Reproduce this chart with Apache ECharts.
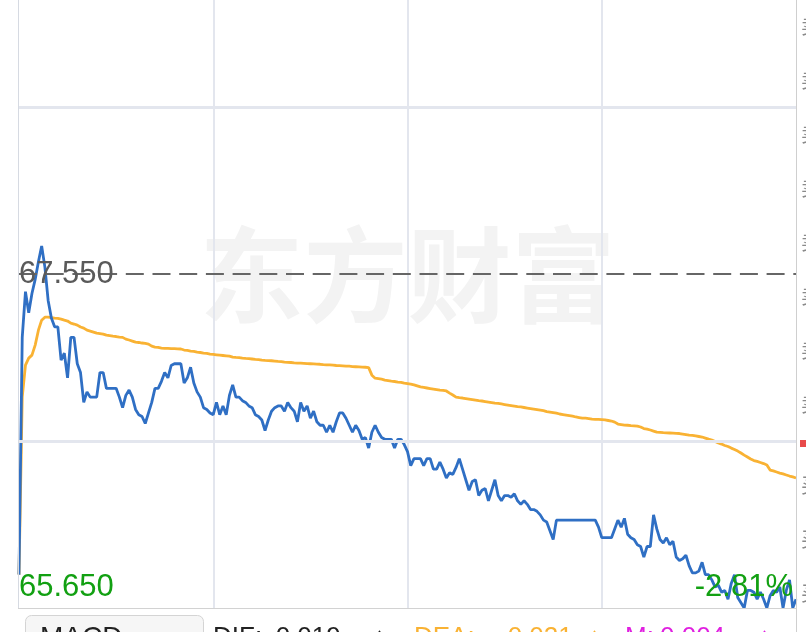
<!DOCTYPE html>
<html><head><meta charset="utf-8">
<script src="https://cdn.jsdelivr.net/npm/echarts@6/dist/echarts.min.js"></script>
<style>html,body{margin:0;padding:0;background:#fff;overflow:hidden}#c{width:806px;height:632px}</style>
</head><body><div id="c"></div>
<script>
const prevClose = 67.55;
const priceMin = 65.65;
const visibleMax = 69.11;   // price at the top edge of the (cropped) picture
const gridStep = 0.95;
const gridLevels = [68.50, 66.60];
const price = [
65.84,67.19,67.45,67.33,67.44,67.52,67.62,67.71,67.59,67.40,
67.30,67.25,67.25,67.06,67.10,66.96,67.19,67.19,67.04,66.99,
66.82,66.88,66.85,66.85,66.85,66.99,66.99,66.90,66.90,66.90,
66.90,66.85,66.79,66.86,66.89,66.85,66.78,66.75,66.74,66.70,
66.76,66.82,66.90,66.90,66.94,66.99,66.96,67.03,67.04,67.04,
67.04,66.93,66.96,67.02,66.93,66.88,66.85,66.79,66.78,66.76,
66.75,66.82,66.75,66.80,66.75,66.86,66.92,66.85,66.85,66.83,
66.82,66.80,66.79,66.75,66.74,66.72,66.66,66.72,66.77,66.79,
66.80,66.80,66.77,66.82,66.79,66.77,66.71,66.82,66.77,66.80,
66.73,66.77,66.71,66.69,66.69,66.65,66.69,66.65,66.71,66.76,
66.76,66.73,66.69,66.65,66.69,66.66,66.61,66.62,66.56,66.65,
66.69,66.65,66.62,66.61,66.61,66.61,66.56,66.61,66.61,66.58,
66.54,66.46,66.50,66.50,66.50,66.46,66.50,66.50,66.44,66.44,
66.48,66.44,66.39,66.42,66.41,66.45,66.50,66.44,66.38,66.32,
66.37,66.38,66.29,66.32,66.33,66.26,66.32,66.38,66.29,66.26,
66.29,66.29,66.28,66.30,66.26,66.24,66.26,66.24,66.21,66.21,
66.20,66.18,66.15,66.14,66.09,66.04,66.15,66.15,66.15,66.15,
66.15,66.15,66.15,66.15,66.15,66.15,66.15,66.15,66.15,66.11,
66.05,66.05,66.05,66.05,66.10,66.15,66.11,66.16,66.07,66.05,
66.04,66.01,66.00,65.94,66.00,66.00,66.18,66.10,66.04,66.02,
66.05,66.01,66.03,65.94,65.92,65.93,65.95,65.89,65.85,65.85,
65.86,65.91,65.84,65.84,65.81,65.77,65.78,65.74,65.75,65.70,
65.79,65.84,65.71,65.68,65.65,65.75,65.75,65.74,65.70,65.74,
65.70,65.65,65.72,65.75,65.74,65.77,65.65,65.75,65.81,65.65,
65.70
];
const avgPrice = [
65.84,66.850,67.032,67.072,67.089,67.146,67.231,67.288,67.305,67.305,
67.303,67.300,67.298,67.294,67.288,67.283,67.271,67.266,67.260,67.249,
67.243,67.231,67.226,67.220,67.214,67.212,67.209,67.203,67.200,67.197,
67.195,67.192,67.190,67.180,67.175,67.169,67.163,67.161,67.158,67.156,
67.152,67.140,67.135,67.133,67.129,67.128,67.127,67.126,67.126,67.125,
67.124,67.118,67.116,67.112,67.110,67.106,67.104,67.101,67.099,67.095,
67.093,67.091,67.089,67.087,67.085,67.083,67.078,67.076,67.075,67.072,
67.070,67.069,67.067,67.065,67.064,67.061,67.059,67.058,67.057,67.055,
67.053,67.052,67.049,67.048,67.047,67.045,67.044,67.043,67.042,67.041,
67.040,67.039,67.038,67.037,67.035,67.034,67.033,67.032,67.030,67.029,
67.028,67.027,67.026,67.024,67.023,67.022,67.021,67.020,67.018,66.975,
66.958,66.955,66.952,66.947,66.944,66.941,66.939,66.936,66.934,66.930,
66.927,66.924,66.920,66.914,66.908,66.905,66.902,66.899,66.896,66.893,
66.890,66.888,66.885,66.873,66.862,66.850,66.847,66.845,66.842,66.839,
66.836,66.833,66.830,66.828,66.825,66.822,66.819,66.816,66.814,66.811,
66.808,66.805,66.802,66.799,66.796,66.794,66.791,66.788,66.785,66.782,
66.779,66.776,66.773,66.768,66.765,66.762,66.759,66.754,66.751,66.748,
66.745,66.742,66.737,66.734,66.731,66.730,66.728,66.725,66.724,66.723,
66.722,66.720,66.717,66.714,66.708,66.697,66.694,66.691,66.690,66.688,
66.687,66.685,66.680,66.671,66.668,66.663,66.657,66.651,66.650,66.648,
66.647,66.646,66.645,66.644,66.643,66.640,66.637,66.634,66.632,66.629,
66.626,66.623,66.617,66.611,66.606,66.597,66.589,66.583,66.575,66.569,
66.560,66.552,66.543,66.532,66.520,66.509,66.498,66.489,66.484,66.478,
66.472,66.464,66.435,66.430,66.424,66.418,66.413,66.407,66.401,66.396,
66.390
];
const sessionBreaks = [60, 120, 180];
const macdNames = ['DIF:', 'DEA:', 'M:'];
const macdValues = ['-0.019', '-0.021', '0.004'];
const macdArrows = ['↑', '↑', '↑'];
const watermark = '东方财富';

// time categories 09:30-11:30, 13:01-15:00
const times = [];
function pad(n){return (n<10?'0':'')+n;}
for (let m = 9*60+30; m <= 11*60+30; m++) times.push(pad(Math.floor(m/60))+':'+pad(m%60));
for (let m = 13*60+1; m <= 15*60; m++) times.push(pad(Math.floor(m/60))+':'+pad(m%60));

const FONT = "'Liberation Sans', Arial, Helvetica, sans-serif";
const chart = echarts.init(document.getElementById('c'), null, {renderer: 'canvas'});
chart.setOption({
  animation: false,
  backgroundColor: '#ffffff',
  grid: {left: 19, right: 10, top: 0, bottom: 24, containLabel: false},
  xAxis: {
    type: 'category', data: times, boundaryGap: false,
    axisLine: {show: false}, axisTick: {show: false}, axisLabel: {show: false},
    splitLine: {show: true, interval: function(i){return sessionBreaks.indexOf(i) >= 0;},
      lineStyle: {color: '#e3e6ee', width: 2}}
  },
  yAxis: {
    type: 'value', min: priceMin, max: visibleMax, interval: gridStep,
    axisLine: {show: false}, axisTick: {show: false}, axisLabel: {show: false},
    splitLine: {show: false}
  },
  series: [
    {
      type: 'line', data: [], z: 1, silent: true,
      markLine: {silent: true, symbol: 'none', label: {show: false},
        lineStyle: {type: 'solid', color: '#e3e6ee', width: 3},
        data: gridLevels.map(v => ({yAxis: v}))}
    },
    {
      name: '均价', type: 'line', data: avgPrice, showSymbol: false, z: 3, silent: true,
      lineStyle: {color: '#f9b233', width: 2.8}
    },
    {
      name: '价格', type: 'line', data: price, showSymbol: false, z: 4, silent: true,
      lineStyle: {color: '#2f6fc4', width: 2.8},
      markLine: {silent: true, symbol: 'none', label: {show: false},
        lineStyle: {type: [18, 8.7], color: '#666666', width: 2},
        data: [{yAxis: prevClose}]}
    }
  ]
});

const x0 = chart.convertToPixel({xAxisIndex: 0}, 0);
const x1 = chart.convertToPixel({xAxisIndex: 0}, times.length - 1);
const yPrev = chart.convertToPixel({yAxisIndex: 0}, prevClose);
const yBot = chart.convertToPixel({yAxisIndex: 0}, priceMin);
const pct = ((priceMin - prevClose) / prevClose * 100).toFixed(2) + '%';
const green = '#12a012';

const g = [
  {type: 'text', z: -10, style: {text: watermark, x: (x0 + x1) / 2, y: yPrev + 1, align: 'center', verticalAlign: 'middle',
    font: "bold 104px 'Noto Sans CJK SC', sans-serif", fill: '#f3f3f3'}},
  {type: 'line', z: 5, shape: {x1: x0 - 0.5, y1: 0, x2: x0 - 0.5, y2: yBot}, style: {stroke: '#d6dae2', lineWidth: 1}},
  {type: 'line', z: 5, shape: {x1: x0 - 1, y1: yBot + 0.5, x2: x1, y2: yBot + 0.5}, style: {stroke: '#d2d2d2', lineWidth: 1}},
  {type: 'line', z: 5, shape: {x1: x1 + 0.5, y1: 0, x2: x1 + 0.5, y2: 632}, style: {stroke: '#cfcfcf', lineWidth: 1}},
  {type: 'text', z: 20, style: {text: prevClose.toFixed(3), x: x0, y: yPrev, align: 'left', verticalAlign: 'middle', font: '31px ' + FONT, fill: '#5a5a5a'}},
  {type: 'text', z: 20, style: {text: priceMin.toFixed(3), x: x0, y: yBot - 21, align: 'left', verticalAlign: 'middle', font: '31px ' + FONT, fill: green}},
  {type: 'text', z: 20, style: {text: pct, x: x1 - 3, y: yBot - 21, align: 'right', verticalAlign: 'middle', font: '31px ' + FONT, fill: green}},
  {type: 'rect', z: 5, shape: {x: 25.5, y: 615.5, width: 178, height: 40, r: 6}, style: {fill: '#f6f6f6', stroke: '#d4d4d4', lineWidth: 1}},
  {type: 'text', z: 6, style: {text: 'MACD', x: 40, y: 638, align: 'left', verticalAlign: 'middle', font: '28px ' + FONT, fill: '#222'}}
];
const macdX = [[213, 267, 373], [414, 499, 588], [625, 660, 758]];
const macdColors = ['#222222', '#f9b233', '#e020e0'];
for (let k = 0; k < 3; k++) {
  g.push({type: 'text', z: 6, style: {text: macdNames[k], x: macdX[k][0], y: 638, align: 'left', verticalAlign: 'middle', font: '26px ' + FONT, fill: macdColors[k]}});
  g.push({type: 'text', z: 6, style: {text: macdValues[k], x: macdX[k][1], y: 638, align: 'left', verticalAlign: 'middle', font: '26px ' + FONT, fill: macdColors[k]}});
  g.push({type: 'text', z: 6, style: {text: macdArrows[k], x: macdX[k][2], y: 638, align: 'left', verticalAlign: 'middle', font: '26px ' + FONT, fill: macdColors[k]}});
}
// cropped right-side order book column
const sideRows = [26, 80, 134, 188, 242, 296, 350, 404, 485, 539, 593];
sideRows.forEach((y, i) => {
  g.push({type: 'text', z: 6, style: {text: i < 8 ? '卖' : '买', x: x1 + 5, y: y, align: 'left', verticalAlign: 'middle',
    font: "20px 'Noto Sans CJK SC', sans-serif", fill: '#8a8a8a'}});
});
g.push({type: 'rect', z: 6, shape: {x: x1 + 4, y: 440, width: 8, height: 7}, style: {fill: '#e84a4a'}});
chart.setOption({graphic: g});
</script>
</body></html>
